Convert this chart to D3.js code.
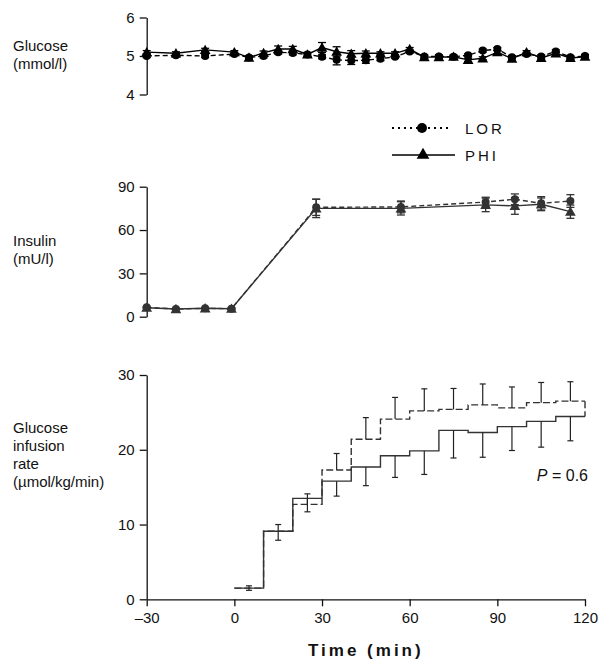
<!DOCTYPE html>
<html>
<head>
<meta charset="utf-8">
<script src="https://cdn.jsdelivr.net/npm/d3@7"></script>
<style>
  body { margin: 0; background: #fff; }
  text { font-family: "Liberation Sans", Arial, sans-serif; fill: #111; }
</style>
</head>
<body>
<div id="chart"></div>
<script>
// glucose panel (mmol/l)
var gluTime = [-30, -20, -10, 0, 5, 10, 15, 20, 25, 30, 35, 40, 45, 50, 55, 60, 65, 70, 75, 80, 85, 90, 95, 100, 105, 110, 115, 120];
var gluLor = [5.0, 5.02, 5.0, 5.05, 4.96, 5.0, 5.1, 5.08, 5.04, 4.98, 4.9, 4.88, 4.89, 4.93, 4.98, 5.12, 4.99, 4.99, 4.98, 5.02, 5.14, 5.18, 4.97, 5.05, 4.99, 5.12, 4.97, 5.0];
var gluPhi = [5.1, 5.07, 5.16, 5.1, 4.96, 5.08, 5.18, 5.18, 5.04, 5.22, 5.11, 5.06, 5.07, 5.07, 5.07, 5.18, 4.97, 4.97, 4.98, 4.9, 4.94, 5.1, 4.93, 5.1, 4.95, 5.07, 4.95, 4.98];
var gluLorErr = [0.04, 0.04, 0.04, 0.04, 0.04, 0.05, 0.05, 0.05, 0.05, 0.05, 0.13, 0.1, 0.08, 0.05, 0.04, 0.04, 0.04, 0.04, 0.04, 0.04, 0.04, 0.04, 0.04, 0.04, 0.04, 0.04, 0.04, 0.04];
var gluPhiErr = [0.04, 0.04, 0.04, 0.04, 0.04, 0.05, 0.08, 0.07, 0.05, 0.13, 0.13, 0.08, 0.06, 0.04, 0.04, 0.04, 0.04, 0.04, 0.04, 0.04, 0.04, 0.04, 0.04, 0.04, 0.04, 0.04, 0.04, 0.04];

// insulin panel (mU/l)
var insTime = [-30, -20, -10, -1, 28, 57, 86, 96, 105, 115];
var insLor = [6.5, 5.3, 5.8, 5.5, 75.7, 76, 79.4, 81.3, 78.5, 80.1];
var insPhi = [6.2, 5.3, 5.8, 5.5, 75, 75, 77.4, 76.7, 77.8, 72.7];
var insLorErr = [0.5, 0.5, 0.5, 0.5, 5.6, 4.1, 3.3, 3.7, 4.6, 4.4];
var insPhiErr = [0.5, 0.5, 0.5, 0.5, 6.4, 4.6, 4.7, 5.8, 4.4, 4.6];

// glucose infusion rate (umol/kg/min), 10 min bins
var girBin = [0, 10, 20, 30, 40, 50, 60, 70, 80, 90, 100, 110];
var girLor = [1.5, 9.1, 12.7, 17.3, 21.4, 24.1, 25.2, 25.4, 26.0, 25.6, 26.3, 26.5];
var girPhi = [1.5, 9.1, 13.5, 15.8, 17.7, 19.2, 19.85, 22.6, 22.3, 23.1, 23.8, 24.45];
var girLorErr = [0.3, 0.9, 1.4, 2.2, 2.9, 2.9, 2.95, 2.8, 2.8, 2.8, 2.7, 2.6];
var girPhiErr = [0.3, 1.2, 1.8, 2.0, 2.5, 2.9, 3.15, 3.7, 3.3, 3.2, 3.45, 3.25];

var xTicks = [-30, 0, 30, 60, 90, 120];

var svg = d3.select("#chart").append("svg")
  .attr("width", 604)
  .attr("height", 661);

var x = d3.scaleLinear().domain([-30, 120]).range([146.7, 585]);
var yGlu = d3.scaleLinear().domain([4, 6]).range([94.5, 17.5]);
var yIns = d3.scaleLinear().domain([0, 90]).range([316.7, 186.7]);
var yGir = d3.scaleLinear().domain([0, 30]).range([599.3, 375]);

// y axis helper
function drawYAxis(scale, ticks) {
  var g = svg.append("g")
    .attr("transform", "translate(" + x(-30) + ",0)")
    .call(d3.axisLeft(scale).tickValues(ticks).tickSize(7).tickSizeOuter(0).tickPadding(5)
      .tickFormat(d3.format("d")));
  g.selectAll("path, line").attr("stroke", "#111").attr("stroke-width", 1.3);
  g.selectAll("text").attr("font-size", "15px").attr("font-family", "Liberation Sans, Arial, sans-serif").attr("fill", "#111");
  return g;
}

drawYAxis(yGlu, [4, 5, 6]);
drawYAxis(yIns, [0, 30, 60, 90]);
drawYAxis(yGir, [0, 10, 20, 30]);

// x axis at the bottom
var xAxis = svg.append("g")
  .attr("transform", "translate(0," + yGir(0) + ")")
  .call(d3.axisBottom(x).tickValues(xTicks).tickSize(7).tickSizeOuter(0).tickPadding(6)
    .tickFormat(d => d < 0 ? "\u2013" + Math.abs(d) : d));
xAxis.selectAll("path, line").attr("stroke", "#111").attr("stroke-width", 1.3);
xAxis.selectAll("text").attr("font-size", "15px").attr("font-family", "Liberation Sans, Arial, sans-serif").attr("fill", "#111");

svg.append("text")
  .attr("x", x(45))
  .attr("y", 656)
  .attr("text-anchor", "middle")
  .attr("font-size", "17px")
  .attr("font-weight", "bold")
  .attr("letter-spacing", "3px")
  .text("Time (min)");

// left-hand titles
function leftTitle(lines, y0) {
  lines.forEach(function (t, i) {
    svg.append("text")
      .attr("x", 13)
      .attr("y", y0 + i * 18)
      .attr("font-size", "15px")
      .text(t);
  });
}
leftTitle(["Glucose", "(mmol/l)"], 51);
leftTitle(["Insulin", "(mU/l)"], 246);
leftTitle(["Glucose", "infusion", "rate", "(\u00b5mol/kg/min)"], 433);

// markers
var tri = d3.symbol().type(d3.symbolTriangle).size(50);

function drawSeries(times, vals, errs, yScale, dash, marker, color) {
  var pts = times.map((t, i) => ({ t: t, v: vals[i], e: errs[i] }));
  var line = d3.line().x(d => x(d.t)).y(d => yScale(d.v));
  svg.append("path")
    .datum(pts)
    .attr("d", line)
    .attr("fill", "none")
    .attr("stroke", color)
    .attr("stroke-width", 1.4)
    .attr("stroke-dasharray", dash);
  var eb = svg.append("g").attr("stroke", color).attr("stroke-width", 1.3);
  pts.forEach(function (d) {
    var cx = x(d.t);
    eb.append("line").attr("x1", cx).attr("x2", cx)
      .attr("y1", yScale(d.v - d.e)).attr("y2", yScale(d.v + d.e));
    [d.v - d.e, d.v + d.e].forEach(function (v) {
      eb.append("line").attr("x1", cx - 4).attr("x2", cx + 4)
        .attr("y1", yScale(v)).attr("y2", yScale(v));
    });
  });
  var m = svg.append("g").attr("fill", color);
  pts.forEach(function (d) {
    if (marker === "circle")
      m.append("circle").attr("cx", x(d.t)).attr("cy", yScale(d.v)).attr("r", 4);
    else
      m.append("path").attr("d", tri).attr("transform", "translate(" + x(d.t) + "," + (yScale(d.v) + 1) + ")");
  });
}

drawSeries(gluTime, gluLor, gluLorErr, yGlu, "5,3", "circle", "#000");
drawSeries(gluTime, gluPhi, gluPhiErr, yGlu, null, "triangle", "#000");
drawSeries(insTime, insLor, insLorErr, yIns, "5,3", "circle", "#333");
drawSeries(insTime, insPhi, insPhiErr, yIns, null, "triangle", "#333");

// legend
var legLor = svg.append("g").attr("transform", "translate(0,128)");
legLor.append("line").attr("x1", 392).attr("x2", 451).attr("stroke", "#000")
  .attr("stroke-width", 1.8).attr("stroke-dasharray", "2,4");
legLor.append("circle").attr("cx", 422).attr("r", 5).attr("fill", "#000");
legLor.append("text").attr("x", 465).attr("y", 6).attr("font-size", "15px")
  .attr("letter-spacing", "3px").text("LOR");

var legPhi = svg.append("g").attr("transform", "translate(0,155)");
legPhi.append("line").attr("x1", 392).attr("x2", 455).attr("stroke", "#000").attr("stroke-width", 1.3);
legPhi.append("path").attr("d", d3.symbol().type(d3.symbolTriangle).size(70)).attr("transform", "translate(423,0)").attr("fill", "#000");
legPhi.append("text").attr("x", 465).attr("y", 6).attr("font-size", "15px")
  .attr("letter-spacing", "3px").text("PHI");

// glucose infusion rate step lines
function drawSteps(vals, errs, dash, upward) {
  var pts = girBin.map((b, i) => ({ t: b, v: vals[i], e: errs[i] }));
  pts.push({ t: 120, v: vals[vals.length - 1] });
  svg.append("path")
    .datum(pts)
    .attr("d", d3.line().curve(d3.curveStepAfter).x(d => x(d.t)).y(d => yGir(d.v)))
    .attr("fill", "none")
    .attr("stroke", "#333")
    .attr("stroke-width", 1.4)
    .attr("stroke-dasharray", dash);
  var eb = svg.append("g").attr("stroke", "#222").attr("stroke-width", 1.2);
  pts.slice(0, girBin.length).forEach(function (d) {
    var cx = x(d.t + 5);
    var end = upward ? d.v + d.e : d.v - d.e;
    eb.append("line").attr("x1", cx).attr("x2", cx).attr("y1", yGir(d.v)).attr("y2", yGir(end));
    eb.append("line").attr("x1", cx - 3).attr("x2", cx + 3).attr("y1", yGir(end)).attr("y2", yGir(end));
  });
}

drawSteps(girLor, girLorErr, "7,3", true);
drawSteps(girPhi, girPhiErr, null, false);

// closing drop of the dashed line at 120 min
svg.append("line")
  .attr("x1", x(120)).attr("x2", x(120))
  .attr("y1", yGir(girLor[girLor.length - 1])).attr("y2", yGir(girPhi[girPhi.length - 1]))
  .attr("stroke", "#333").attr("stroke-width", 1.4).attr("stroke-dasharray", "7,3");

svg.append("text")
  .attr("x", 588)
  .attr("y", 481)
  .attr("text-anchor", "end")
  .attr("font-size", "16px")
  .html("<tspan font-style='italic'>P</tspan> = 0.6");
</script>
</body>
</html>
